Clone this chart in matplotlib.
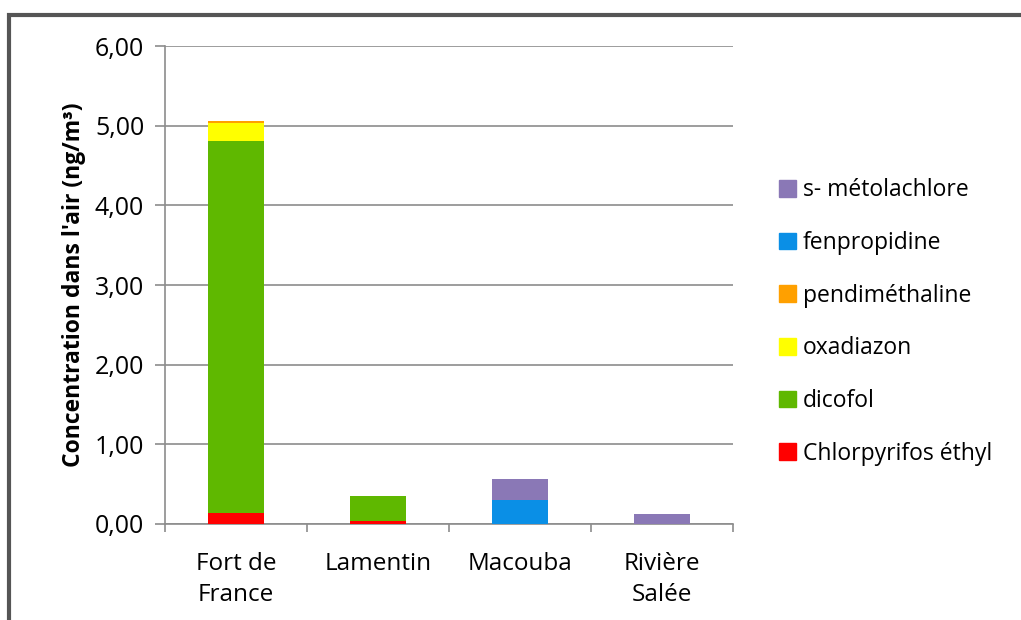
import numpy as np
import matplotlib.pyplot as plt
from matplotlib.patches import Rectangle, Patch

plt.rcParams['font.family'] = ['Open Sans', 'DejaVu Sans']

sites = ["Fort de\nFrance", "Lamentin", "Macouba", "Rivière\nSalée"]

# concentrations in ng/m3, stacked bottom to top
chlorpyrifos = [0.14, 0.04, 0.00, 0.00]
dicofol = [4.67, 0.31, 0.00, 0.00]
oxadiazon = [0.22, 0.00, 0.00, 0.00]
pendimethaline = [0.03, 0.00, 0.00, 0.00]
fenpropidine = [0.00, 0.00, 0.30, 0.00]
metolachlore = [0.00, 0.00, 0.26, 0.13]

series = [
    ("Chlorpyrifos éthyl", chlorpyrifos, "#ff0000"),
    ("dicofol", dicofol, "#5fb800"),
    ("oxadiazon", oxadiazon, "#ffff00"),
    ("pendiméthaline", pendimethaline, "#ffa000"),
    ("fenpropidine", fenpropidine, "#0a8fe6"),
    ("s- métolachlore", metolachlore, "#8a78b6"),
]

fig = plt.figure(figsize=(10.21, 6.2), dpi=100)
ax = fig.add_axes([165 / 1021, 1 - 524 / 620, (733 - 165) / 1021, (524 - 46) / 620])

# outer frame
fig.patches.append(Rectangle((9 / 1021, -0.1), 1.2, 1 - 15 / 620 + 0.1,
                             transform=fig.transFigure, fill=False,
                             edgecolor="#555555", linewidth=3, zorder=0))

x = np.arange(len(sites))
bottom = np.zeros(len(sites))
for name, vals, col in series:
    ax.bar(x, vals, 0.4, bottom=bottom, color=col, zorder=3)
    bottom += np.array(vals)

ax.set_ylim(0, 6)
ax.set_xlim(-0.5, 3.5)
ax.set_yticks(np.arange(0, 7, 1))
ax.set_yticklabels([f"{v:.2f}".replace(".", ",") for v in np.arange(0, 7, 1)], fontsize=18)
ax.yaxis.grid(True, color="#8c8c8c", linewidth=1.2, zorder=0)
ax.tick_params(axis="y", length=7, width=1.2, color="#8c8c8c", pad=8)

ax.set_xticks(x)
ax.set_xticklabels(sites, fontsize=17.5, linespacing=1.4)
ax.set_xticks(np.arange(-0.5, 4, 1), minor=True)
ax.tick_params(axis="x", which="major", length=0, pad=20)
ax.tick_params(axis="x", which="minor", length=6, width=1.2, color="#8c8c8c")

for s in ["top", "right"]:
    ax.spines[s].set_visible(False)
for s in ["left", "bottom"]:
    ax.spines[s].set_color("#8c8c8c")
    ax.spines[s].set_linewidth(1.2)

ax.set_ylabel("Concentration dans l'air (ng/m³)", fontsize=16.5, fontweight="bold", labelpad=6)

handles = [Patch(color=col, label=name) for name, vals, col in series][::-1]
fig.legend(handles=handles, loc="center left", bbox_to_anchor=(758 / 1021, 1 - 322 / 620),
           frameon=False, fontsize=16.5, handlelength=0.75, handleheight=0.75,
           handletextpad=0.3, labelspacing=1.25)

fig.savefig("out.png", dpi=100)
